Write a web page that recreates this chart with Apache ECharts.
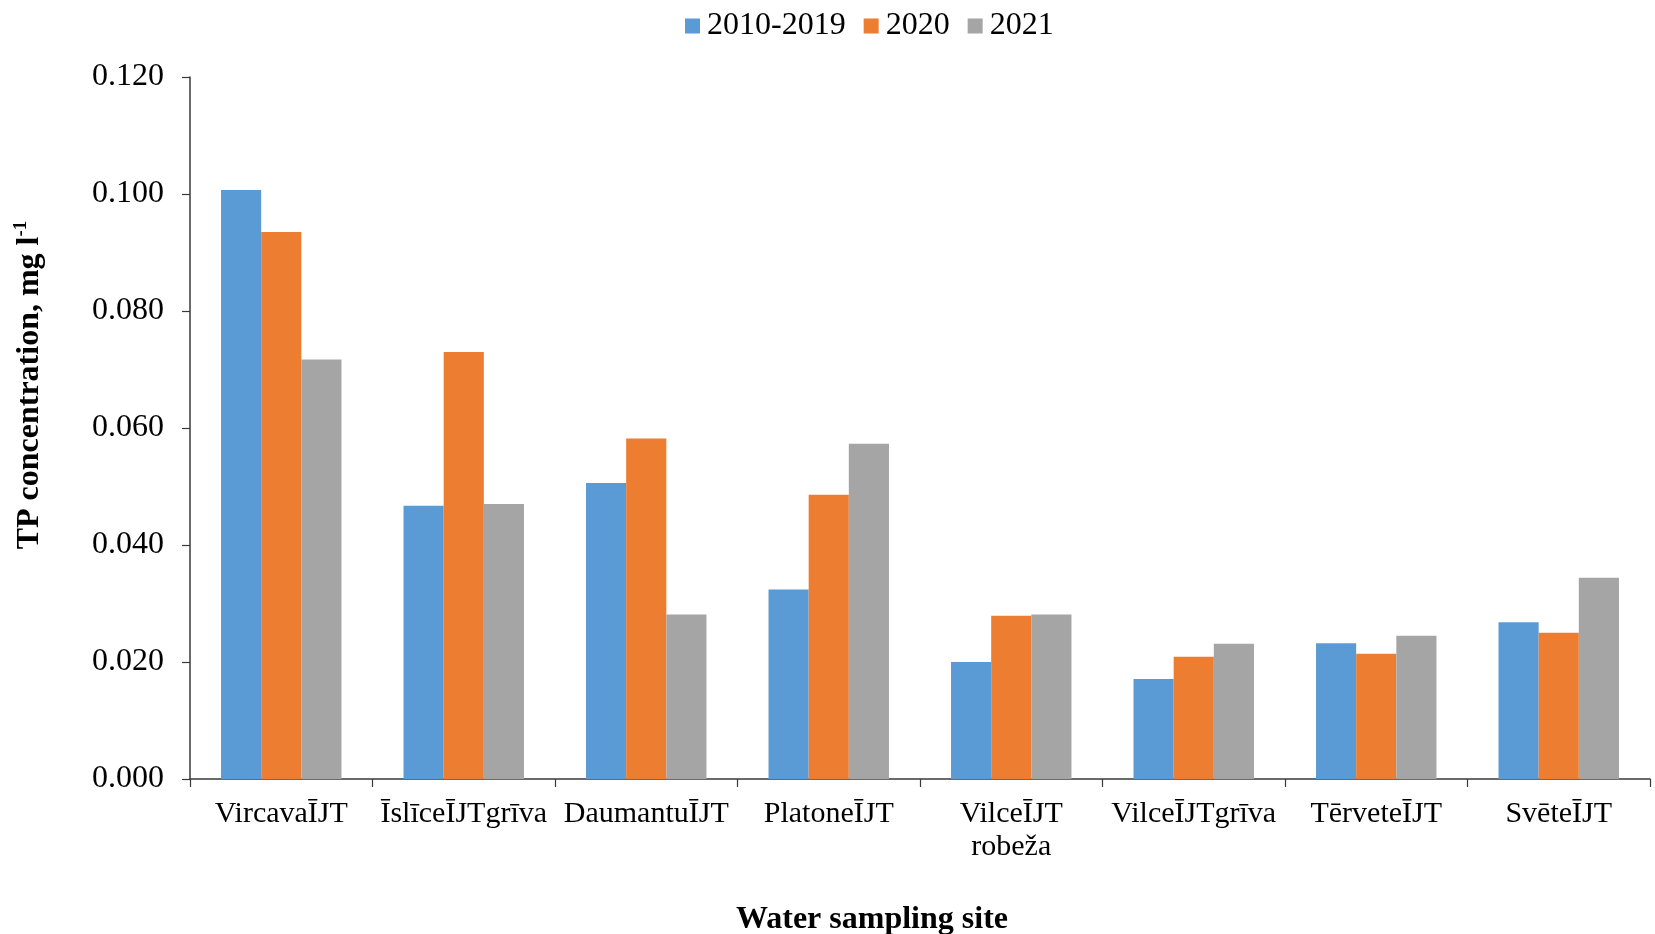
<!DOCTYPE html>
<html>
<head>
<meta charset="utf-8">
<script src="https://cdn.jsdelivr.net/npm/echarts@6/dist/echarts.min.js"></script>
<style>
  html, body { margin: 0; padding: 0; background: #fff; }
  #chart { width: 1655px; height: 934px; }
</style>
</head>
<body>
<div id="chart"></div>
<script>
// Sampling sites along the river network
const sites = ['VircavaĪJT', 'ĪslīceĪJTgrīva', 'DaumantuĪJT', 'PlatoneĪJT',
               'VilceĪJT robeža', 'VilceĪJTgrīva', 'TērveteĪJT', 'SvēteĪJT'];

// Mean total phosphorus concentration, mg/l
const tp2010_2019 = [0.1007, 0.0467, 0.0506, 0.0324, 0.0200, 0.0171, 0.0232, 0.0268];
const tp2020      = [0.0935, 0.0730, 0.0582, 0.0486, 0.0279, 0.0209, 0.0214, 0.0250];
const tp2021      = [0.0717, 0.0470, 0.0281, 0.0573, 0.0281, 0.0231, 0.0245, 0.0344];

const seriesNames = ['2010-2019', '2020', '2021'];
const seriesColors = ['#5B9BD5', '#ED7D31', '#A5A5A5'];

const FONT = '"Liberation Serif", "Times New Roman", serif';
const chart = echarts.init(document.getElementById('chart'));

const makeBar = (name, data, color) => ({
  name, type: 'bar', data,
  barGap: '0%', barCategoryGap: '34%',
  itemStyle: { color },
  emphasis: { disabled: true }
});

chart.setOption({
  animation: false,
  textStyle: { fontFamily: FONT },
  legend: {
    top: 5, left: 680,
    itemWidth: 15, itemHeight: 15, itemGap: 18,
    icon: 'rect',
    textStyle: { fontFamily: FONT, fontSize: 32, color: '#000', padding: [0, 0, 0, 2] },
    data: seriesNames
  },
  grid: { left: 190, right: 5, top: 77, bottom: 155, containLabel: false },
  xAxis: {
    type: 'category',
    data: sites,
    axisLine: { lineStyle: { color: '#3a3a3a', width: 1.5 } },
    axisTick: { show: true, length: 8, lineStyle: { color: '#3a3a3a', width: 1.2 } },
    axisLabel: {
      fontFamily: FONT, fontSize: 30, color: '#000', margin: 19, lineHeight: 33,
      interval: 0,
      formatter: v => v === 'VilceĪJT robeža' ? v.replace(' ', '\n') : v
    }
  },
  yAxis: {
    type: 'value',
    min: 0, max: 0.12, interval: 0.02,
    splitLine: { show: false },
    axisLine: { show: true, lineStyle: { color: '#3a3a3a', width: 1.5 } },
    axisTick: { show: true, length: 8, lineStyle: { color: '#3a3a3a', width: 1.2 } },
    axisLabel: {
      fontFamily: FONT, fontSize: 32, color: '#000', margin: 26,
      formatter: v => v.toFixed(3)
    }
  },
  graphic: [
    {
      type: 'text',
      x: 30, y: 385, rotation: Math.PI / 2,
      style: {
        text: '{b|TP concentration, mg l}{s|-1}',
        align: 'center', verticalAlign: 'middle',
        fill: '#000',
        rich: {
          b: { fontFamily: FONT, fontSize: 32, fontWeight: 'bold', fill: '#000', lineHeight: 36 },
          s: { fontFamily: FONT, fontSize: 19, fontWeight: 'bold', fill: '#000', verticalAlign: 'top', lineHeight: 36, padding: [0, 0, 13, 0] }
        }
      }
    },
    {
      type: 'text',
      x: 872, y: 920,
      style: {
        text: 'Water sampling site',
        font: 'bold 32px ' + FONT,
        fill: '#000',
        align: 'center', verticalAlign: 'middle'
      }
    }
  ],
  series: [
    makeBar(seriesNames[0], tp2010_2019, seriesColors[0]),
    makeBar(seriesNames[1], tp2020, seriesColors[1]),
    makeBar(seriesNames[2], tp2021, seriesColors[2])
  ]
});
</script>
</body>
</html>
